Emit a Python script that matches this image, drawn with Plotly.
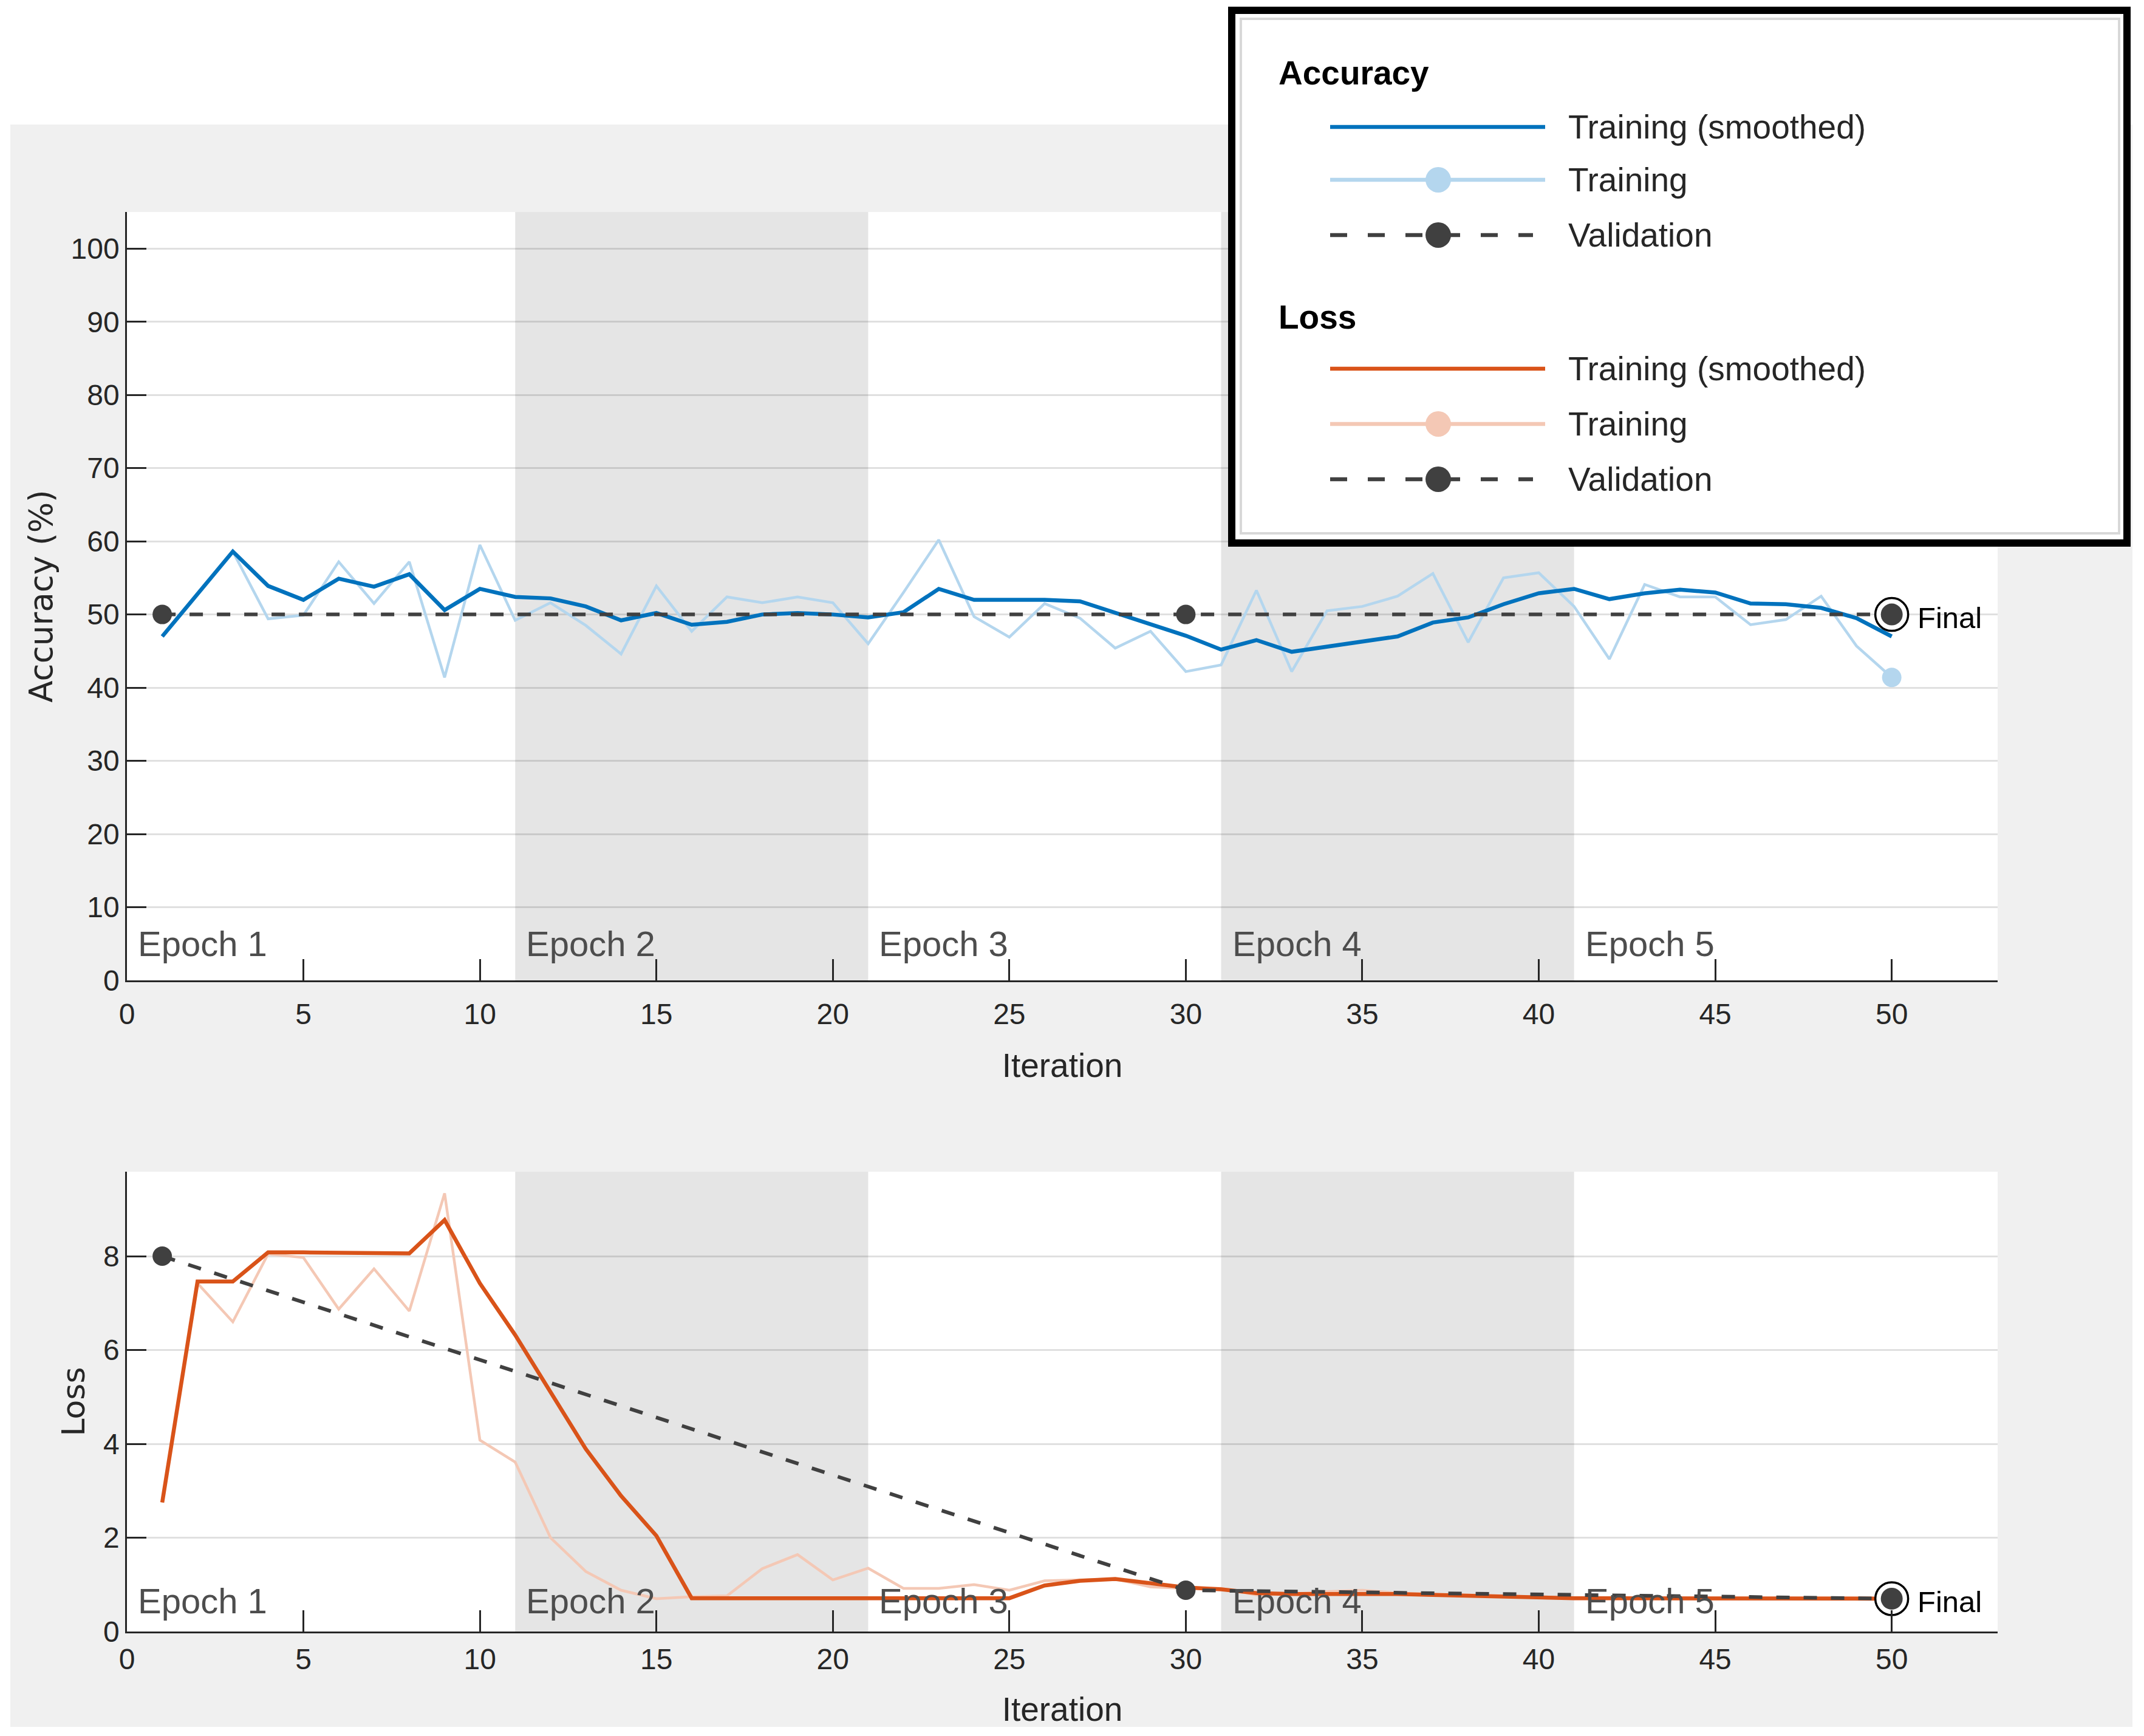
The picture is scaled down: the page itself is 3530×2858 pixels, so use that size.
import plotly.graph_objects as go

# ---------------- data ----------------
iterations = list(range(1, 51))

acc_smoothed = [47.0, 52.8, 58.6, 53.9, 52.0, 54.9, 53.8, 55.5, 50.6, 53.5,
                52.4, 52.2, 51.1, 49.2, 50.2, 48.6, 49.0, 50.0, 50.2, 50.0,
                49.6, 50.3, 53.5, 52.0, 52.0, 52.0, 51.8, 50.2, 48.7, 47.1,
                45.2, 46.5, 44.9, 45.6, 46.4, 47.0, 48.9, 49.6, 51.4, 52.9,
                53.5, 52.1, 52.9, 53.4, 53.0, 51.5, 51.4, 50.9, 49.5, 47.0]

acc_raw = [47.0, 52.8, 58.6, 49.4, 49.9, 57.2, 51.5, 57.2, 41.4, 59.5,
           49.2, 51.6, 48.5, 44.6, 53.9, 47.7, 52.4, 51.6, 52.4, 51.6,
           46.0, 53.0, 60.2, 49.7, 46.9, 51.5, 49.5, 45.4, 47.7, 42.2,
           43.1, 53.3, 42.2, 50.5, 51.1, 52.5, 55.6, 46.2, 55.0, 55.7,
           51.1, 43.9, 54.1, 52.4, 52.4, 48.6, 49.3, 52.5, 45.7, 41.4]

val_iter = [1, 30, 50]
acc_val = [50.0, 50.0, 50.0]

loss_smoothed = [2.75, 7.46, 7.46, 8.08, 8.08, 8.08, 8.08, 8.06, 8.77, 7.42,
                 6.32, 5.10, 3.89, 2.89, 2.04, 0.71, 0.71, 0.71, 0.71, 0.71,
                 0.71, 0.71, 0.71, 0.71, 0.71, 0.98, 1.08, 1.12, 1.04, 0.94,
                 0.90, 0.82, 0.80, 0.80, 0.82, 0.80, 0.78, 0.76, 0.74, 0.71,
                 0.71, 0.71, 0.71, 0.71, 0.71, 0.71, 0.71, 0.71, 0.70, 0.70]

loss_raw = [2.75, 7.42, 6.60, 8.05, 7.97, 6.87, 7.73, 6.83, 9.34, 4.08,
            3.61, 2.00, 1.28, 0.88, 0.70, 0.74, 0.76, 1.34, 1.64, 1.10,
            1.35, 0.92, 0.92, 1.00, 0.88, 1.08, 1.10, 1.12, 0.95, 0.92,
            0.92, 0.78, 0.80, 0.85, 0.88, 0.82, 0.80, 0.78, 0.76, 0.73,
            0.72, 0.72, 0.72, 0.73, 0.72, 0.72, 0.72, 0.72, 0.72, 0.72]

loss_val = [8.0, 0.88, 0.70]

epoch_labels = ["Epoch 1", "Epoch 2", "Epoch 3", "Epoch 4", "Epoch 5"]
epoch_starts = [0, 11, 21, 31, 41]
shaded_epochs = [(11, 21), (31, 41)]

x_ticks = list(range(0, 51, 5))
acc_ticks = list(range(0, 101, 10))
loss_ticks = [0, 2, 4, 6, 8]

# ---------------- style ----------------
W, H = 3530, 2858
L, R, T, B = 209, 3289, 349, 2686

BLUE = "#0072BD"
LBLUE = "#B4D6EE"
ORANGE = "#D95319"
LORANGE = "#F4C8B5"
VAL = "#404040"
AX = "#262626"
NARROW = "Liberation Sans Narrow, Arial Narrow, Liberation Sans, Arial, sans-serif"
SANS = "Liberation Sans, Arial, Helvetica, sans-serif"
WIDE = "DejaVu Sans, Verdana, sans-serif"


def px(x):
    return (x - L) / (R - L)


def py(y):
    return (B - y) / (B - T)


fig = go.Figure()


def add_panel(xa, ya, raw, smooth, val, raw_col, sm_col):
    fig.add_trace(go.Scatter(x=iterations, y=raw, mode="lines",
                             line=dict(color=raw_col, width=4.5),
                             xaxis=xa, yaxis=ya, showlegend=False, hoverinfo="skip"))
    fig.add_trace(go.Scatter(x=iterations, y=smooth, mode="lines",
                             line=dict(color=sm_col, width=6.5),
                             xaxis=xa, yaxis=ya, showlegend=False, hoverinfo="skip"))
    fig.add_trace(go.Scatter(x=val_iter, y=val, mode="lines",
                             line=dict(color=VAL, width=6, dash="22px,23px"),
                             xaxis=xa, yaxis=ya, showlegend=False, hoverinfo="skip"))
    fig.add_trace(go.Scatter(x=[iterations[-1]], y=[raw[-1]], mode="markers",
                             marker=dict(color=raw_col, size=32),
                             xaxis=xa, yaxis=ya, showlegend=False, hoverinfo="skip"))
    fig.add_trace(go.Scatter(x=val_iter[:-1], y=val[:-1], mode="markers",
                             marker=dict(color=VAL, size=32),
                             xaxis=xa, yaxis=ya, showlegend=False, hoverinfo="skip"))
    fig.add_trace(go.Scatter(x=[val_iter[-1]], y=[val[-1]], mode="markers",
                             marker=dict(color="white", size=54,
                                         line=dict(color="black", width=3.5)),
                             xaxis=xa, yaxis=ya, showlegend=False, hoverinfo="skip"))
    fig.add_trace(go.Scatter(x=[val_iter[-1]], y=[val[-1]], mode="markers",
                             marker=dict(color=VAL, size=36),
                             xaxis=xa, yaxis=ya, showlegend=False, hoverinfo="skip"))


add_panel("x", "y", acc_raw, acc_smoothed, acc_val, LBLUE, BLUE)
add_panel("x2", "y2", loss_raw, loss_smoothed, loss_val, LORANGE, ORANGE)

shapes = []
# white margins around the grey figure panel
for (x0, y0, x1, y1) in [(0, 0, W, 205), (0, 0, 17, H), (3511, 0, W, H), (0, 2843, W, H)]:
    shapes.append(dict(type="rect", xref="paper", yref="paper",
                       x0=px(x0), x1=px(x1), y0=py(y1), y1=py(y0),
                       fillcolor="white", line=dict(width=0), layer="below"))
# epoch shading
for xr, yr in [("x", "y"), ("x2", "y2")]:
    for a, b in shaded_epochs:
        shapes.append(dict(type="rect", xref=xr, yref=yr + " domain",
                           x0=a, x1=b, y0=0, y1=1,
                           fillcolor="#E5E5E5", line=dict(width=0), layer="below"))

# legend box
shapes.append(dict(type="rect", xref="paper", yref="paper",
                   x0=px(2028), x1=px(3502), y0=py(894), y1=py(17),
                   fillcolor="white", line=dict(color="black", width=12), layer="above"))
shapes.append(dict(type="rect", xref="paper", yref="paper",
                   x0=px(2043), x1=px(3489), y0=py(878), y1=py(31),
                   fillcolor="rgba(0,0,0,0)", line=dict(color="#D8D8D8", width=4), layer="above"))

annotations = []
rows = [
    (209, BLUE, "solid", None, "Training (smoothed)"),
    (296, LBLUE, "solid", LBLUE, "Training"),
    (387, VAL, "28px,34px", VAL, "Validation"),
    (607, ORANGE, "solid", None, "Training (smoothed)"),
    (698, LORANGE, "solid", LORANGE, "Training"),
    (789, VAL, "28px,34px", VAL, "Validation"),
]
for yc, col, dash, mcol, label in rows:
    x_end = 2544 if dash == "solid" else 2524
    shapes.append(dict(type="line", xref="paper", yref="paper",
                       x0=px(2190), x1=px(x_end), y0=py(yc), y1=py(yc),
                       line=dict(color=col, width=6.5, dash=dash), layer="above"))
    if mcol:
        r = 21
        shapes.append(dict(type="circle", xref="paper", yref="paper",
                           x0=px(2368 - r), x1=px(2368 + r), y0=py(yc + r), y1=py(yc - r),
                           fillcolor=mcol, line=dict(width=0), layer="above"))
    annotations.append(dict(xref="paper", yref="paper", x=px(2580), y=py(yc),
                            text=label, showarrow=False, xanchor="left", yanchor="middle",
                            font=dict(family=SANS, size=55, color=AX)))
for yc, label in [(120, "Accuracy"), (522, "Loss")]:
    annotations.append(dict(xref="paper", yref="paper", x=px(2103), y=py(yc),
                            text="<b>" + label + "</b>", showarrow=False,
                            xanchor="left", yanchor="middle",
                            font=dict(family=SANS, size=55, color="black")))

# epoch labels and "Final" labels
for xr, yr, yv, fv in [("x", "y", 5.0, acc_val[-1]), ("x2", "y2", 0.66, loss_val[-1])]:
    for lab, st in zip(epoch_labels, epoch_starts):
        annotations.append(dict(xref=xr, yref=yr, x=st, y=yv, xshift=16,
                                text=lab, showarrow=False, xanchor="left", yanchor="middle",
                                font=dict(family=NARROW, size=58, color="#4D4D4D")))
    annotations.append(dict(xref=xr, yref=yr, x=val_iter[-1], y=fv, xshift=40, yshift=-5,
                            text="Final", showarrow=False, xanchor="left", yanchor="middle",
                            font=dict(family=NARROW, size=49, color="black")))

axis_common = dict(showline=True, linecolor=AX, linewidth=2.5,
                   ticks="inside", tickcolor=AX, tickwidth=2.5,
                   tickfont=dict(family=NARROW, size=48, color=AX),
                   zeroline=False, fixedrange=True)

x_common = dict(axis_common, range=[0, 53], tickvals=x_ticks, ticklen=35, showgrid=False)

fig.update_layout(
    width=W, height=H,
    margin=dict(l=L, r=W - R, t=T, b=H - B, pad=0),
    paper_bgcolor="#F0F0F0",
    plot_bgcolor="white",
    showlegend=False,
    xaxis=dict(x_common, domain=[0, 1], anchor="y", ticklabelstandoff=12,
               title=dict(text="Iteration", font=dict(family=NARROW, size=55, color=AX),
                          standoff=40)),
    xaxis2=dict(x_common, domain=[0, 1], anchor="y2", ticklabelstandoff=2,
                title=dict(text="Iteration", font=dict(family=NARROW, size=55, color=AX),
                           standoff=38)),
    yaxis=dict(axis_common, domain=[py(1614), 1], anchor="x", range=[0, 105],
               tickvals=acc_ticks, ticklen=32, showgrid=True,
               gridcolor="rgba(0,0,0,0.12)", gridwidth=2.5,
               title=dict(text="Accuracy (%)", font=dict(family=WIDE, size=53, color=AX),
                          standoff=14)),
    yaxis2=dict(axis_common, domain=[0, py(1929)], anchor="x2", range=[0, 9.8],
                tickvals=loss_ticks, ticklen=32, showgrid=True,
                gridcolor="rgba(0,0,0,0.12)", gridwidth=2.5,
                title=dict(text="Loss", font=dict(family=WIDE, size=52, color=AX),
                           standoff=14)),
    shapes=shapes,
    annotations=annotations,
)

fig.write_html("out.html", config={"displayModeBar": False},
               post_script="document.body.style.margin='0';document.body.style.overflow='hidden';")
